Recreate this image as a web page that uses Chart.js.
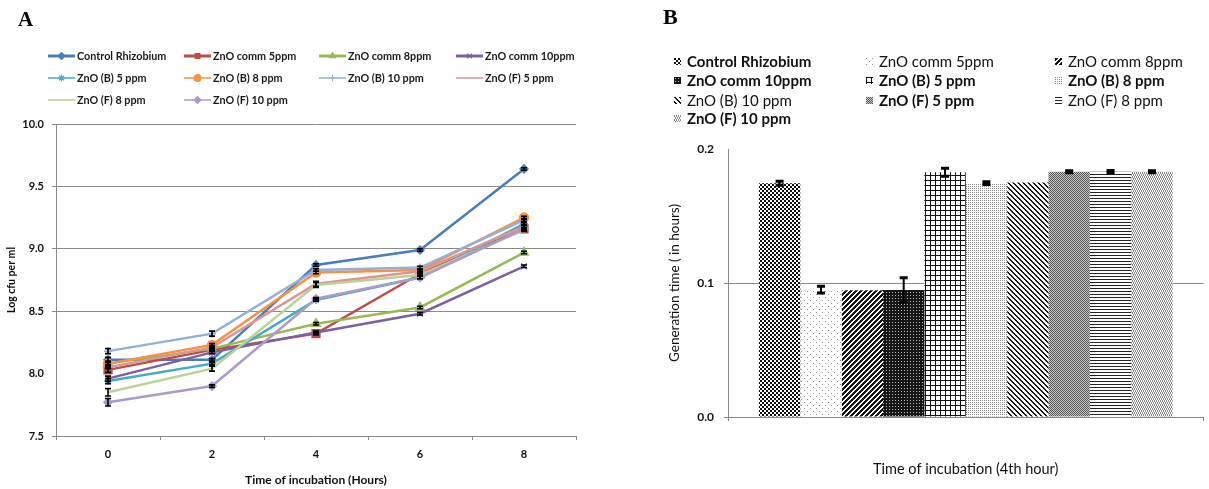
<!DOCTYPE html>
<html><head><meta charset="utf-8">
<script src="https://cdn.jsdelivr.net/npm/chart.js@4.4.1/dist/chart.umd.min.js"></script>
<style>
html,body{margin:0;padding:0;background:#fff;}
#wrap{position:relative;width:1209px;height:489px;overflow:hidden;background:#fff;font-family:Lato,'DejaVu Sans',sans-serif;}
#cA{position:absolute;left:0;top:0;}
#cB{position:absolute;left:600px;top:0;}
.panel{position:absolute;font-family:'Liberation Serif','DejaVu Serif',serif;font-weight:bold;color:#000;line-height:1;}
.lgA{position:absolute;height:12px;line-height:12px;font-size:10.8px;font-weight:700;color:#1a1a1a;white-space:nowrap;}
.lgA canvas{position:absolute;left:0;top:0;}
.lgA span{position:absolute;left:29px;top:0;}
.lgB{position:absolute;height:18px;line-height:18px;font-size:15px;color:#111;white-space:nowrap;}
.lgB .sw{position:absolute;left:0;top:6px;width:7px;height:7px;}
.lgB span{position:absolute;left:13px;top:0;}
</style></head><body>
<div id="wrap">
 <canvas id="cA" width="600" height="489"></canvas>
 <canvas id="cB" width="609" height="489"></canvas>
 <div class="panel" style="left:18px;top:9px;font-size:21px;">A</div>
 <div class="panel" style="left:663px;top:6px;font-size:22px;">B</div>
 <div id="legA"></div><div id="legB"></div>
</div>
<script>
// ---------- DATA ----------
const hours = ['0', '2', '4', '6', '8'];
const seriesNames = ['Control Rhizobium', 'ZnO comm 5ppm', 'ZnO comm 8ppm', 'ZnO comm 10ppm',
  'ZnO (B) 5 ppm', 'ZnO (B) 8 ppm', 'ZnO (B) 10 ppm', 'ZnO (F) 5 ppm', 'ZnO (F) 8 ppm', 'ZnO (F) 10 ppm'];

const controlRhizobium = [8.11, 8.11, 8.87, 8.99, 9.64];
const znoComm5 = [8.03, 8.19, 8.32, 8.80, 9.16];
const znoComm8 = [8.08, 8.20, 8.40, 8.53, 8.97];
const znoComm10 = [7.96, 8.17, 8.33, 8.48, 8.86];
const znoB5 = [7.94, 8.08, 8.59, 8.77, 9.20];
const znoB8 = [8.08, 8.23, 8.81, 8.83, 9.25];
const znoB10 = [8.18, 8.32, 8.83, 8.85, 9.23];
const znoF5 = [8.05, 8.21, 8.72, 8.82, 9.18];
const znoF8 = [7.85, 8.04, 8.71, 8.79, 9.15];
const znoF10 = [7.77, 7.90, 8.60, 8.77, 9.16];
const logCfu = [controlRhizobium, znoComm5, znoComm8, znoComm10, znoB5, znoB8, znoB10, znoF5, znoF8, znoF10];

const errControl = [0.02, 0.01, 0.01, 0.01, 0.01];
const errComm5 = [0.02, 0.01, 0.01, 0.01, 0.01];
const errComm8 = [0.02, 0.01, 0.01, 0.01, 0.01];
const errComm10 = [0.02, 0.01, 0.01, 0.01, 0.01];
const errB5 = [0.02, 0.01, 0.01, 0.01, 0.01];
const errB8 = [0.01, 0.01, 0.01, 0.01, 0.01];
const errB10 = [0.02, 0.02, 0.01, 0.01, 0.01];
const errF5 = [0.01, 0.01, 0.02, 0.01, 0.01];
const errF8 = [0.03, 0.02, 0.02, 0.01, 0.01];
const errF10 = [0.03, 0.01, 0.01, 0.01, 0.01];
const logCfuErr = [errControl, errComm5, errComm8, errComm10, errB5, errB8, errB10, errF5, errF8, errF10];
const yTicksA = [7.5, 8.0, 8.5, 9.0, 9.5, 10.0];

const genCategory = ['4th hour'];
const genTime = [0.1745, 0.0950, 0.0946, 0.0948, 0.1826, 0.1745, 0.1750, 0.1830, 0.1830, 0.1830];
const genTimeErr = [0.0015, 0.0025, 0, 0.0092, 0.0030, 0.0010, 0, 0.0008, 0.0010, 0.0008];
const yTicksB = [0.0, 0.1, 0.2];

// ---------- STYLES ----------
const lineColors = ['#4A7EBB', '#BE4B48', '#98B954', '#7D60A0', '#46AAC5', '#F69240', '#93AFDA', '#D99694', '#BCD196', '#AC9BC6'];
const markerStyles = ['rectRot', 'rect', 'triangle', 'crossRot', 'star', 'circle', 'cross', 'circle', 'circle', 'rectRot'];
const markerRadius = [4, 5.5, 5, 4, 4, 4.5, 4, 0, 0, 4];
const legendLineW = [3, 3, 3, 3, 1.5, 1.5, 1.5, 1.5, 1.5, 1.5];
const legendWeightB = [700, 400, 400, 700, 700, 700, 400, 700, 400, 700];
const TXT = '#111';
const AX = '#8a8a8a';

// ---------- PATTERNS ----------
function makeTile(w, h, fn) {
  const c = document.createElement('canvas'); c.width = w; c.height = h;
  const g = c.getContext('2d'); fn(g, w, h); return c;
}
function px(g, x, y, col) { g.fillStyle = col; g.fillRect(x, y, 1, 1); }
function bg(g, w, h, col) { g.fillStyle = col; g.fillRect(0, 0, w, h); }
const tiles = [
  makeTile(4, 4, (g) => { bg(g, 4, 4, '#fff'); g.fillStyle = '#111'; g.fillRect(0, 0, 2, 2); g.fillRect(2, 2, 2, 2); }),
  makeTile(6, 6, (g) => { bg(g, 6, 6, '#fff'); px(g, 0, 0, '#999'); px(g, 3, 3, '#999'); }),
  makeTile(5, 5, (g) => { bg(g, 5, 5, '#fff'); for (let y = 0; y < 5; y++) for (let x = 0; x < 5; x++) if ((x + y) % 5 < 3) px(g, x, y, '#151515'); }),
  makeTile(3, 3, (g) => { bg(g, 3, 3, '#151515'); px(g, 1, 1, '#bbb'); }),
  makeTile(5, 5, (g) => { bg(g, 5, 5, '#fff'); g.fillStyle = '#111'; g.fillRect(0, 0, 5, 1); g.fillRect(0, 0, 1, 5); }),
  makeTile(2, 2, (g) => { bg(g, 2, 2, '#fff'); px(g, 0, 0, '#888'); }),
  makeTile(5, 5, (g) => { bg(g, 5, 5, '#fff'); for (let y = 0; y < 5; y++) for (let x = 0; x < 5; x++) if (((x - y) % 5 + 5) % 5 < 2) px(g, x, y, '#151515'); }),
  makeTile(4, 4, (g) => { bg(g, 4, 4, '#c8c8c8'); for (let y = 0; y < 4; y++) for (let x = 0; x < 4; x++) if ((x + y) % 2 === 0) px(g, x, y, '#555'); }),
  makeTile(1, 3, (g) => { bg(g, 1, 3, '#fff'); px(g, 0, 0, '#222'); }),
  makeTile(4, 4, (g) => { bg(g, 4, 4, '#fff'); for (let y = 0; y < 4; y++) for (let x = 0; x < 4; x++) if ((x + Math.floor(y / 2)) % 2 === 0) px(g, x, y, '#888'); })
];
const ctxB = document.getElementById('cB').getContext('2d');
const patterns = tiles.map(t => ctxB.createPattern(t, 'repeat'));

// ---------- ERROR BAR PLUGINS ----------
const errPluginA = {
  id: 'errA',
  afterDatasetsDraw(chart) {
    const ctx = chart.ctx, ys = chart.scales.y;
    ctx.save(); ctx.strokeStyle = '#000'; ctx.lineWidth = 1.6;
    chart.data.datasets.forEach((ds, i) => {
      const meta = chart.getDatasetMeta(i);
      ds.data.forEach((v, j) => {
        const e = logCfuErr[i][j]; if (!e) return;
        const x = meta.data[j].x, y1 = ys.getPixelForValue(v + e), y2 = ys.getPixelForValue(v - e);
        ctx.beginPath();
        ctx.moveTo(x, y1); ctx.lineTo(x, y2);
        ctx.moveTo(x - 3, y1); ctx.lineTo(x + 3, y1);
        ctx.moveTo(x - 3, y2); ctx.lineTo(x + 3, y2);
        ctx.stroke();
      });
    });
    ctx.restore();
  }
};
const errPluginB = {
  id: 'errB',
  afterDatasetsDraw(chart) {
    const ctx = chart.ctx, ys = chart.scales.y;
    ctx.save(); ctx.strokeStyle = '#000';
    chart.data.datasets.forEach((ds, i) => {
      const e = genTimeErr[i]; if (!e) return;
      const bar = chart.getDatasetMeta(i).data[0];
      const v = ds.data[0];
      const x = bar.x, y1 = ys.getPixelForValue(v + e), y2 = ys.getPixelForValue(v - e);
      ctx.lineWidth = 2;
      ctx.beginPath(); ctx.moveTo(x, y1); ctx.lineTo(x, y2); ctx.stroke();
      ctx.lineWidth = 3;
      ctx.beginPath();
      ctx.moveTo(x - 4, y1); ctx.lineTo(x + 4, y1);
      ctx.moveTo(x - 4, y2); ctx.lineTo(x + 4, y2);
      ctx.stroke();
    });
    ctx.restore();
  }
};

// ---------- CHART A ----------
const fontA = { family: 'Lato', size: 11, weight: 'bold' };
new Chart(document.getElementById('cA'), {
  type: 'line',
  data: {
    labels: hours,
    datasets: logCfu.map((d, i) => ({
      label: seriesNames[i], data: d,
      borderColor: lineColors[i], backgroundColor: lineColors[i],
      borderWidth: 2.5, tension: 0,
      pointStyle: markerStyles[i], pointRadius: markerRadius[i],
      pointBorderColor: lineColors[i], pointBackgroundColor: lineColors[i], pointBorderWidth: 1.5,
      order: 10 - i
    }))
  },
  options: {
    responsive: false, animation: false, devicePixelRatio: 1,
    layout: { padding: { left: 0, top: 124, right: 24, bottom: 0 } },
    plugins: { legend: { display: false }, tooltip: { enabled: false } },
    scales: {
      x: {
        type: 'category', offset: true,
        grid: { offset: true, drawOnChartArea: false, color: AX, tickLength: 4 },
        border: { color: AX },
        ticks: { color: TXT, font: fontA, padding: 8 },
        title: { display: true, text: 'Time of incubation (Hours)', color: TXT, font: { family: 'Lato', size: 12, weight: 'bold' }, padding: { top: 0, bottom: 2 } },
        afterFit(s) { s.height = 53; }
      },
      y: {
        min: 7.5, max: 10,
        afterBuildTicks(s) { s.ticks = yTicksA.map(v => ({ value: v })); },
        ticks: { color: TXT, font: fontA, padding: 8, callback: v => Number(v).toFixed(1) },
        grid: { color: c => (c.tick && Math.abs(c.tick.value - 8) < 1e-9) ? 'rgba(0,0,0,0)' : AX, tickLength: 4 },
        border: { color: AX },
        title: { display: true, text: 'Log cfu per ml', color: TXT, font: { family: 'Lato', size: 10.5, weight: 'bold' }, padding: { top: 5, bottom: 0 } },
        afterFit(s) { s.width = 56; }
      }
    }
  },
  plugins: [errPluginA]
});

// ---------- CHART B ----------
new Chart(document.getElementById('cB'), {
  type: 'bar',
  data: {
    labels: genCategory,
    datasets: genTime.map((v, i) => ({
      label: seriesNames[i], data: [v],
      backgroundColor: patterns[i], borderWidth: 0,
      categoryPercentage: 0.87, barPercentage: 1.0
    }))
  },
  options: {
    responsive: false, animation: false, devicePixelRatio: 1,
    layout: { padding: { left: 64, top: 149, right: 5.5, bottom: 0 } },
    plugins: { legend: { display: false }, tooltip: { enabled: false } },
    scales: {
      x: {
        grid: { offset: true, drawOnChartArea: false, color: AX, tickLength: 4 },
        border: { color: AX },
        ticks: { display: false },
        title: { display: true, text: 'Time of incubation (4th hour)', color: TXT, font: { family: 'Lato', size: 14.5 }, padding: { top: 0, bottom: 11 } },
        afterFit(s) { s.height = 72; }
      },
      y: {
        min: 0, max: 0.2,
        afterBuildTicks(s) { s.ticks = yTicksB.map(v => ({ value: v })); },
        ticks: { color: TXT, font: { family: 'Lato', size: 12, weight: 'bold' }, padding: 10, callback: v => Number(v).toFixed(1) },
        grid: { color: c => (c.tick && c.tick.value > 0.15) ? 'rgba(0,0,0,0)' : AX, tickLength: 4 },
        border: { color: AX },
        title: { display: true, text: 'Generation time ( in hours)', color: TXT, font: { family: 'Lato', size: 13.5 }, padding: { top: 3, bottom: 0 } },
        afterFit(s) { s.width = 64; }
      }
    }
  },
  plugins: [errPluginB]
});

// ---------- LEGENDS ----------
const legA = document.getElementById('legA');
const colA = [48, 184, 319, 456], rowA = [55.5, 77.5, 99.5];
seriesNames.forEach((name, i) => {
  const d = document.createElement('div'); d.className = 'lgA';
  d.style.left = colA[i % 4] + 'px'; d.style.top = (rowA[Math.floor(i / 4)] - 6) + 'px';
  const c = document.createElement('canvas'); c.width = 27; c.height = 12;
  const g = c.getContext('2d');
  g.strokeStyle = lineColors[i]; g.lineWidth = legendLineW[i];
  g.beginPath(); g.moveTo(0, 6); g.lineTo(27, 6); g.stroke();
  if (markerRadius[i] > 0) {
    g.fillStyle = lineColors[i]; g.strokeStyle = lineColors[i]; g.lineWidth = 1.2;
    if (window.Chart && Chart.helpers && Chart.helpers.drawPoint) {
      Chart.helpers.drawPoint(g, { pointStyle: markerStyles[i], radius: Math.min(markerRadius[i], 4) * 0.85, rotation: 0, borderWidth: 1.2 }, 13.5, 6);
    } else { g.beginPath(); g.arc(13.5, 6, 3, 0, Math.PI * 2); g.fill(); }
  }
  const s = document.createElement('span'); s.textContent = name;
  d.appendChild(c); d.appendChild(s); legA.appendChild(d);
});
const legB = document.getElementById('legB');
const colB = [674, 866, 1055], rowB = [61, 80, 99.5, 118];
seriesNames.forEach((name, i) => {
  const d = document.createElement('div'); d.className = 'lgB';
  d.style.left = colB[i % 3] + 'px'; d.style.top = (rowB[Math.floor(i / 3)] - 9) + 'px';
  d.style.fontWeight = legendWeightB[i];
  const sw = document.createElement('div'); sw.className = 'sw';
  sw.style.backgroundImage = 'url(' + tiles[i].toDataURL() + ')';
  const s = document.createElement('span'); s.textContent = name;
  d.appendChild(sw); d.appendChild(s); legB.appendChild(d);
});
</script>
</body></html>
